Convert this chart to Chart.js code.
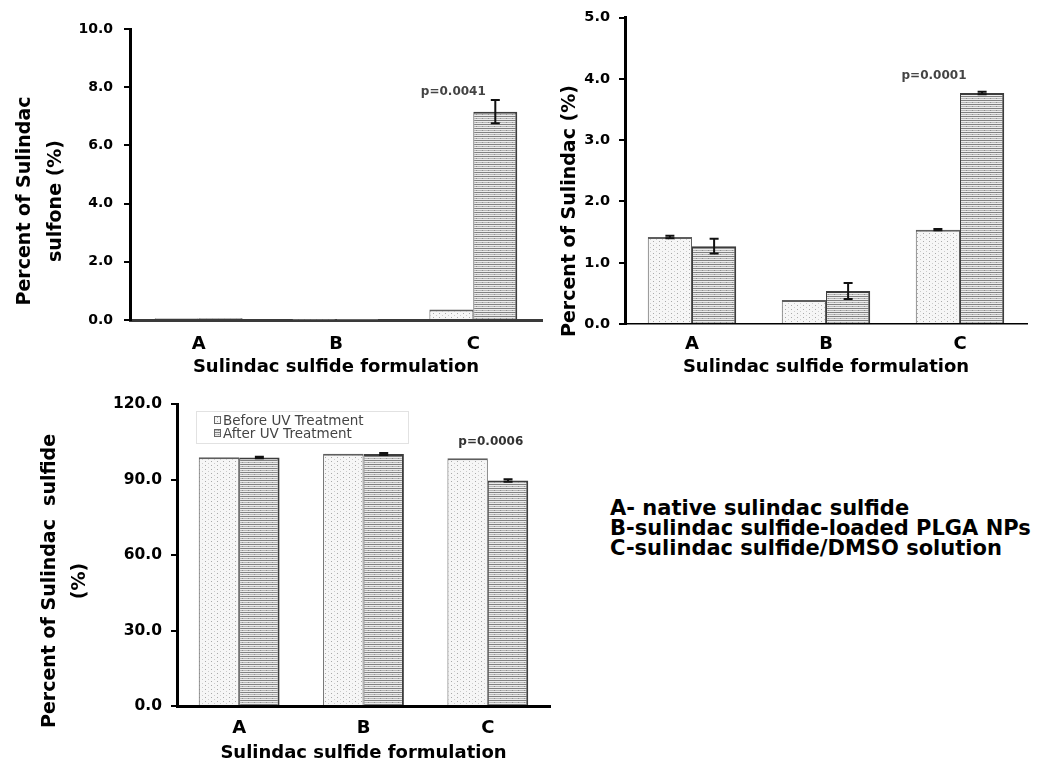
<!DOCTYPE html>
<html>
<head>
<meta charset="utf-8">
<script src="https://cdn.jsdelivr.net/npm/chart.js@4.4.1/dist/chart.umd.min.js"></script>
<style>
  html, body { margin: 0; padding: 0; background: #fff; }
  body { width: 1043px; height: 762px; position: relative; overflow: hidden; }
  canvas { position: absolute; }
  #sulfone { left: 0; top: 0; }
  #sulindac { left: 520px; top: 0; }
  #sulfide { left: 0; top: 380px; }
  #key { position: absolute; left: 610px; top: 498px; font: bold 21px "DejaVu Sans", sans-serif;
         line-height: 20px; color: #000; white-space: nowrap; }
</style>
</head>
<body>
<canvas id="sulfone" width="560" height="380"></canvas>
<canvas id="sulindac" width="523" height="380"></canvas>
<canvas id="sulfide" width="560" height="382"></canvas>
<div id="key"></div>
<script>
// ---- data ----
const categories = ['A', 'B', 'C'];
const seriesNames = ['Before UV Treatment', 'After UV Treatment'];
const xAxisTitle = 'Sulindac sulfide formulation';

// Percent of sulindac sulfone
const sulfoneBefore    = [0.06, 0.02, 0.36];
const sulfoneAfter     = [0.06, 0.02, 7.16];
const sulfoneBeforeErr = [0, 0, 0];
const sulfoneAfterErr  = [0, 0, 0.40];
const sulfoneTicks     = ['0.0', '2.0', '4.0', '6.0', '8.0', '10.0'];

// Percent of sulindac
const sulindacBefore    = [1.42, 0.39, 1.54];
const sulindacAfter     = [1.27, 0.54, 3.77];
const sulindacBeforeErr = [0.02, 0, 0.01];
const sulindacAfterErr  = [0.12, 0.13, 0.02];
const sulindacTicks     = ['0.0', '1.0', '2.0', '3.0', '4.0', '5.0'];

// Percent of sulindac sulfide
const sulfideBefore    = [98.8, 100.2, 98.4];
const sulfideAfter     = [98.7, 100.1, 89.6];
const sulfideBeforeErr = [0, 0, 0];
const sulfideAfterErr  = [0.3, 0.4, 0.5];
const sulfideTicks     = ['0.0', '30.0', '60.0', '90.0', '120.0'];

const pValues = ['p=0.0041', 'p=0.0001', 'p=0.0006'];
const formulationKey = [
  'A- native sulindac sulfide',
  'B-sulindac sulfide-loaded PLGA NPs',
  'C-sulindac sulfide/DMSO solution'
];

// ---- fills ----
function tile(w, h, paint) {
  const c = document.createElement('canvas');
  c.width = w; c.height = h;
  const g = c.getContext('2d');
  paint(g);
  return g.createPattern(c, 'repeat');
}
const dotFill = tile(6, 4, g => {
  g.fillStyle = '#f6f6f6'; g.fillRect(0, 0, 6, 4);
  g.fillStyle = '#aaaaaa'; g.fillRect(1, 1, 1, 1);
  g.fillStyle = '#cccccc'; g.fillRect(4, 3, 1, 1);
});
const stripeFill = tile(6, 4, g => {
  g.fillStyle = '#ececec'; g.fillRect(0, 0, 6, 4);
  g.fillStyle = '#808080'; g.fillRect(0, 0, 6, 1);
  g.fillStyle = '#b8b8b8'; g.fillRect(0, 2, 6, 1);
  g.fillStyle = '#909090'; g.fillRect(2, 2, 1, 1);
});

// ---- plugins ----
const errBars = {
  id: 'errBars',
  afterDatasetsDraw(chart, args, o) {
    const ctx = chart.ctx, y = chart.scales.y;
    ctx.save();
    ctx.strokeStyle = o.color; ctx.lineWidth = o.width;
    chart.data.datasets.forEach((ds, i) => {
      chart.getDatasetMeta(i).data.forEach((bar, j) => {
        const e = ds.errors ? ds.errors[j] : 0;
        if (!e) return;
        const v = ds.data[j];
        const hi = y.getPixelForValue(v + e), lo = y.getPixelForValue(v - e);
        ctx.beginPath();
        ctx.moveTo(bar.x, hi); ctx.lineTo(bar.x, lo);
        ctx.moveTo(bar.x - o.cap / 2, hi); ctx.lineTo(bar.x + o.cap / 2, hi);
        ctx.moveTo(bar.x - o.cap / 2, lo); ctx.lineTo(bar.x + o.cap / 2, lo);
        ctx.stroke();
      });
    });
    ctx.restore();
  }
};

const panelText = {
  id: 'panelText',
  afterDraw(chart, args, o) {
    const ctx = chart.ctx;
    ctx.save();
    ctx.textAlign = 'center'; ctx.textBaseline = 'middle';
    // rotated value-axis title
    ctx.fillStyle = '#000'; ctx.font = o.titleFont;
    o.yTitle.forEach((line, k) => {
      ctx.save();
      ctx.translate(o.yTitleX + k * o.yTitleGap, o.yTitleY);
      ctx.rotate(-Math.PI / 2);
      ctx.fillText(line, 0, 0);
      ctx.restore();
    });
    // significance note above group C
    const xs = chart.scales.x, ys = chart.scales.y, i = o.pIndex;
    let top = 0;
    chart.data.datasets.forEach(ds => {
      top = Math.max(top, ds.data[i] + (ds.errors ? ds.errors[i] : 0));
    });
    ctx.font = o.pFont; ctx.fillStyle = o.pColor;
    ctx.fillText(o.pText, xs.getPixelForValue(i) + o.pDx, ys.getPixelForValue(top) - o.pGap);
    // series key box
    if (o.key) {
      const k = o.key;
      ctx.strokeStyle = '#e2e2e2'; ctx.lineWidth = 1;
      ctx.strokeRect(k.x + 0.5, k.y + 0.5, k.w, k.h);
      ctx.font = k.font; ctx.textAlign = 'left';
      chart.data.datasets.forEach((ds, n) => {
        const ly = k.y + k.first + n * k.gap;
        ctx.fillStyle = ds.backgroundColor;
        ctx.fillRect(k.x + k.inset, ly - 4, 7, 8);
        ctx.strokeStyle = '#666';
        ctx.strokeRect(k.x + k.inset + 0.5, ly - 3.5, 6, 7);
        ctx.fillStyle = '#444';
        ctx.fillText(ds.label, k.x + k.inset + 9, ly + 1);
      });
    }
    ctx.restore();
  }
};

// ---- panel builder ----
function panel(id, p) {
  const fam = '"DejaVu Sans", sans-serif';
  return new Chart(document.getElementById(id), {
    type: 'bar',
    data: {
      labels: categories,
      datasets: [
        { label: seriesNames[0], data: p.before, errors: p.beforeErr,
          backgroundColor: dotFill, borderColor: '#5e5e5e',
          borderWidth: { top: 2, left: 1, right: 1, bottom: 0 } },
        { label: seriesNames[1], data: p.after, errors: p.afterErr,
          backgroundColor: stripeFill, borderColor: '#3c3c3c',
          borderWidth: { top: 2, left: 1, right: 2, bottom: 0 } }
      ]
    },
    options: {
      responsive: false, animation: false, devicePixelRatio: 1,
      datasets: { bar: { categoryPercentage: p.groupWidth, barPercentage: 1.0 } },
      layout: { padding: p.pad },
      plugins: {
        legend: { display: false },
        tooltip: { enabled: false },
        errBars: { color: '#111', width: 2, cap: 9 },
        panelText: p.text
      },
      scales: {
        x: {
          grid: { display: false, drawTicks: false },
          border: { color: p.xAxisColor, width: p.xAxisWidth },
          ticks: { padding: p.xTickPad, color: '#000', font: { family: fam, size: 18, weight: 'bold' } },
          title: { display: true, text: xAxisTitle, color: '#000',
                   font: { family: fam, size: 18, weight: 'bold', lineHeight: 1.2 },
                   padding: { top: 0, bottom: p.xTitlePad } },
          afterFit: s => { s.height = p.xHeight; }
        },
        y: {
          min: 0, max: p.max,
          ticks: { stepSize: p.step, padding: p.yTickPad, color: '#000',
                   font: { family: fam, size: p.yTickSize, weight: 'bold' },
                   callback: (v, i) => p.tickLabels[i] },
          grid: { drawOnChartArea: false, drawTicks: true, tickLength: 6, color: '#000', lineWidth: 2 },
          border: { color: '#000', width: 3 },
          afterFit: s => { s.width = p.yWidth; }
        }
      }
    },
    plugins: [errBars, panelText]
  });
}

const titleFont = 'bold 19px "DejaVu Sans", sans-serif';
const pFont = 'bold 12px "DejaVu Sans", sans-serif';

panel('sulfone', {
  before: sulfoneBefore, after: sulfoneAfter,
  beforeErr: sulfoneBeforeErr, afterErr: sulfoneAfterErr,
  tickLabels: sulfoneTicks, max: 10, step: 2,
  groupWidth: 0.64, pad: { top: 29, right: 18, left: 0, bottom: 0 },
  yWidth: 130, xHeight: 60, xTickPad: 14, xTitlePad: 2, yTickPad: 11, yTickSize: 14,
  xAxisColor: '#3a3a3a', xAxisWidth: 3,
  text: { yTitle: ['Percent of Sulindac', 'sulfone (%)'], yTitleX: 25, yTitleGap: 31, yTitleY: 201,
          titleFont, pText: pValues[0], pIndex: 2, pDx: -20, pGap: 8, pFont, pColor: '#444' }
});

panel('sulindac', {
  before: sulindacBefore, after: sulindacAfter,
  beforeErr: sulindacBeforeErr, afterErr: sulindacAfterErr,
  tickLabels: sulindacTicks, max: 5, step: 1,
  groupWidth: 0.66, pad: { top: 17, right: 16, left: 0, bottom: 0 },
  yWidth: 105, xHeight: 56, xTickPad: 10, xTitlePad: 2, yTickPad: 9, yTickSize: 14.5,
  xAxisColor: '#000', xAxisWidth: 1.5,
  text: { yTitle: ['Percent of Sulindac (%)'], yTitleX: 50, yTitleGap: 0, yTitleY: 211,
          titleFont, pText: pValues[1], pIndex: 2, pDx: -26, pGap: 16, pFont, pColor: '#444' }
});

panel('sulfide', {
  before: sulfideBefore, after: sulfideAfter,
  beforeErr: sulfideBeforeErr, afterErr: sulfideAfterErr,
  tickLabels: sulfideTicks, max: 120, step: 30,
  groupWidth: 0.65, pad: { top: 24, right: 10, left: 0, bottom: 0 },
  yWidth: 177, xHeight: 56, xTickPad: 12, xTitlePad: -2, yTickPad: 9, yTickSize: 15.5,
  xAxisColor: '#000', xAxisWidth: 3,
  text: { yTitle: ['Percent of Sulindac  sulfide', '(%)'], yTitleX: 50, yTitleGap: 30, yTitleY: 201,
          titleFont, pText: pValues[2], pIndex: 2, pDx: 3, pGap: 16, pFont, pColor: '#333',
          key: { x: 196, y: 31, w: 212, h: 32, inset: 18, first: 9, gap: 13,
                 font: '13.5px "DejaVu Sans", sans-serif' } }
});

document.getElementById('key').innerHTML = formulationKey.map(t => '<div>' + t + '</div>').join('');
</script>
</body>
</html>
